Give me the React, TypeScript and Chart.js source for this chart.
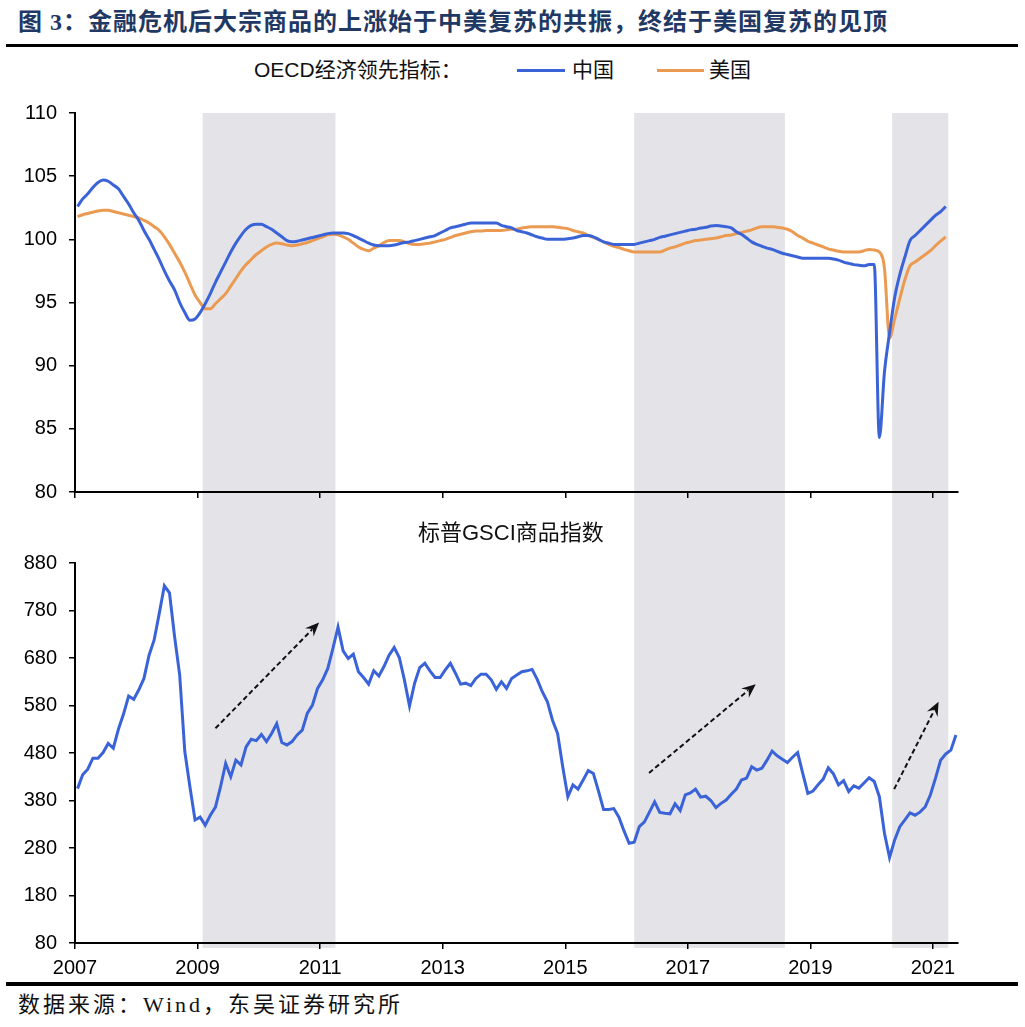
import React, { useEffect, useRef } from 'react';
import { Chart, registerables } from 'chart.js';

Chart.register(...registerables);

// ---------- data ----------
const FIRST_YEAR = 2007;
const tickYears = [2007, 2009, 2011, 2013, 2015, 2017, 2019, 2021];
const axisEndMonth = 172.9; // months after Jan 2007 where the x axis ends
const oecdYTicks = [80, 85, 90, 95, 100, 105, 110];
const gsciYTicks = [80, 180, 280, 380, 480, 580, 680, 780, 880];

// OECD composite leading indicator, monthly from Jan 2007
const chinaCLI = [
  102.6, 103.2, 103.6, 104.1, 104.5, 104.7, 104.6, 104.3, 104.0, 103.4,
  102.8, 102.1, 101.5, 100.7, 100.0, 99.2, 98.4, 97.5, 96.7, 96.0,
  95.0, 94.2, 93.6, 93.7, 94.2, 94.9, 95.7, 96.6, 97.4, 98.2,
  99.0, 99.7, 100.3, 100.8, 101.1, 101.2, 101.2, 101.0, 100.8, 100.5,
  100.2, 99.9, 99.8, 99.85, 99.95, 100.05, 100.15, 100.25, 100.35, 100.45,
  100.5, 100.5, 100.5, 100.45, 100.3, 100.1, 99.9, 99.7, 99.55, 99.5,
  99.5, 99.5, 99.55, 99.65, 99.75, 99.8, 99.9, 100.0, 100.1, 100.2,
  100.3, 100.5, 100.7, 100.9, 101.0, 101.1, 101.2, 101.3, 101.3, 101.3,
  101.3, 101.3, 101.3, 101.1, 101.0, 100.9, 100.7, 100.6, 100.5, 100.35,
  100.2, 100.1, 100.0, 100.0, 100.0, 100.0, 100.05, 100.1, 100.2, 100.3,
  100.3, 100.2, 100.0, 99.8, 99.7, 99.6, 99.6, 99.6, 99.6, 99.6,
  99.7, 99.8, 99.9, 100.0, 100.15, 100.25, 100.35, 100.45, 100.55, 100.65,
  100.75, 100.8, 100.9, 100.95, 101.05, 101.1, 101.05, 101.0, 100.9, 100.6,
  100.4, 100.1, 99.8, 99.6, 99.45, 99.3, 99.2, 99.05, 98.9, 98.8,
  98.7, 98.6, 98.5, 98.5, 98.5, 98.5, 98.5, 98.5, 98.45, 98.35,
  98.2, 98.1, 98.0, 97.95, 97.9, 98.0, 98.0, 84.3, 89.5, 92.6,
  95.4, 97.2, 98.6, 99.9, 100.3, 100.7, 101.1, 101.5, 101.9, 102.2,
  102.6,
];

const usCLI = [
  101.8, 101.95, 102.05, 102.15, 102.25, 102.3, 102.3, 102.2, 102.1, 102.0,
  101.9, 101.8, 101.7, 101.5, 101.3, 101.0, 100.7, 100.2, 99.6, 98.9,
  98.2, 97.4, 96.5, 95.6, 95.0, 94.5, 94.5, 94.9, 95.3, 95.7,
  96.3, 96.9, 97.5, 98.0, 98.4, 98.8, 99.1, 99.4, 99.6, 99.7,
  99.65, 99.55, 99.5, 99.55, 99.65, 99.75, 99.9, 100.05, 100.2, 100.35,
  100.4, 100.35, 100.2, 100.0, 99.7, 99.4, 99.2, 99.1, 99.3, 99.5,
  99.75, 99.9, 99.9, 99.9, 99.8, 99.65, 99.6, 99.6, 99.65, 99.7,
  99.8, 99.9, 100.0, 100.15, 100.3, 100.4, 100.5, 100.6, 100.65, 100.65,
  100.7, 100.7, 100.7, 100.7, 100.75, 100.8, 100.8, 100.9, 100.95, 101.0,
  101.0, 101.0, 101.0, 101.0, 100.95, 100.9, 100.85, 100.7, 100.6, 100.5,
  100.3, 100.15, 100.0, 99.8, 99.6, 99.45, 99.35, 99.2, 99.1, 99.0,
  99.0, 99.0, 99.0, 99.0, 99.0, 99.15, 99.3, 99.4, 99.55, 99.7,
  99.8, 99.9, 99.95, 100.0, 100.05, 100.1, 100.2, 100.3, 100.35, 100.45,
  100.55, 100.65, 100.75, 100.9, 101.0, 101.0, 101.0, 100.95, 100.9, 100.8,
  100.6, 100.3, 100.1, 99.85, 99.7, 99.55, 99.4, 99.25, 99.15, 99.05,
  99.0, 99.0, 99.0, 99.0, 99.1, 99.2, 99.15, 99.0, 97.7, 92.2,
  93.7, 95.3, 96.8, 97.9, 98.2, 98.5, 98.8, 99.1, 99.5, 99.85,
  100.2,
];

// S&P GSCI commodity index, monthly from Jan 2007
const gsci = [
  405, 434, 446, 469, 469, 481, 500, 490, 530, 562,
  600, 593, 613, 637, 686, 718, 774, 832, 817, 725,
  644, 483, 409, 339, 345, 328, 349, 366, 409, 458,
  430, 465, 455, 493, 509, 506, 519, 504, 521, 542,
  502, 497, 504, 518, 528, 564, 581, 616, 634, 658,
  700, 745, 695, 679, 688, 651, 639, 625, 653, 642,
  662, 686, 702, 681, 634, 579, 627, 660, 669, 653,
  639, 639, 655, 669, 648, 625, 627, 622, 637, 646,
  646, 634, 614, 630, 616, 637, 644, 651, 653, 656,
  635, 609, 588, 549, 521, 451, 388, 413, 404, 423,
  443, 437, 400, 361, 361, 363, 345, 316, 290, 292,
  325, 335, 356, 377, 355, 353, 352, 373, 359, 392,
  396, 404, 387, 389, 380, 365, 374, 381, 393, 404,
  423, 427, 451, 444, 448, 465, 484, 474, 467, 460,
  471, 481, 437, 395, 400, 413, 425, 449, 436, 413,
  422, 399, 411, 406, 417, 428, 420, 388, 311, 260,
  297, 325, 339, 354, 349, 356, 367, 392, 427, 465,
  478, 486, 518,
];

// shaded periods (months after Jan 2007)
const shadeStartMonths = [25, 109.5, 160];
const shadeEndMonths = [51, 139, 171];

// trend arrows in the GSCI panel (month, index value)
const arrowFromMonth = [27.5, 112.4, 160.4];
const arrowFromValue = [532, 438, 404];
const arrowToMonth = [47.8, 133.3, 169.1];
const arrowToValue = [755, 625, 588];

// ---------- style ----------
const BLUE = '#3b63d8';
const ORANGE = '#eb9a52';
const SHADE = '#e4e4e8';
const FONT_SANS = '"Liberation Sans", Arial, "Noto Sans CJK SC", sans-serif';
const FONT_SERIF = '"Liberation Serif", "Noto Sans CJK SC", serif';

const toPoints = (vals: number[]) => vals.map((v, i) => ({ x: i + 0.5, y: v }));

function xScale(showLabels: boolean, height: number): any {
  return {
    type: 'linear',
    min: 0,
    max: axisEndMonth,
    afterBuildTicks: (s: any) => {
      s.ticks = tickYears.map((y) => ({ value: (y - FIRST_YEAR) * 12 }));
    },
    afterFit: (s: any) => {
      s.height = height;
    },
    grid: { display: true, drawOnChartArea: false, drawTicks: true, tickLength: 6, color: '#000', lineWidth: 1.5 },
    border: { display: true, color: '#000', width: 2 },
    ticks: {
      autoSkip: false,
      maxRotation: 0,
      padding: 7,
      color: '#000',
      font: { family: FONT_SANS, size: 20 },
      callback: (v: any) => (showLabels ? String(FIRST_YEAR + Math.round(Number(v) / 12)) : ''),
    },
  };
}

function yScale(min: number, max: number, ticks: number[]): any {
  return {
    type: 'linear',
    min,
    max,
    afterBuildTicks: (s: any) => {
      s.ticks = ticks.map((v) => ({ value: v }));
    },
    afterFit: (s: any) => {
      s.width = 75;
    },
    grid: { display: true, drawOnChartArea: false, drawTicks: true, tickLength: 6, color: '#000', lineWidth: 1.5 },
    border: { display: true, color: '#000', width: 2 },
    ticks: { padding: 12, color: '#000', font: { family: FONT_SANS, size: 20 } },
  };
}

function shadePlugin(fromCanvasTop: boolean, toCanvasBottom: boolean): any {
  return {
    id: 'shade',
    beforeDraw(chart: any) {
      const { ctx, chartArea, scales } = chart;
      const x = scales.x;
      const top = fromCanvasTop ? 0 : chartArea.top;
      const bottom = toCanvasBottom ? chart.height : chartArea.bottom + 5;
      ctx.save();
      ctx.fillStyle = SHADE;
      for (let i = 0; i < shadeStartMonths.length; i++) {
        const x0 = x.getPixelForValue(shadeStartMonths[i]);
        const x1 = x.getPixelForValue(shadeEndMonths[i]);
        ctx.fillRect(x0, top, x1 - x0, bottom - top);
      }
      ctx.restore();
    },
  };
}

const arrowPlugin: any = {
  id: 'arrows',
  afterDatasetsDraw(chart: any) {
    const { ctx, scales } = chart;
    const { x, y } = scales;
    ctx.save();
    for (let i = 0; i < arrowFromMonth.length; i++) {
      const x0 = x.getPixelForValue(arrowFromMonth[i]);
      const y0 = y.getPixelForValue(arrowFromValue[i]);
      const x1 = x.getPixelForValue(arrowToMonth[i]);
      const y1 = y.getPixelForValue(arrowToValue[i]);
      const ang = Math.atan2(y1 - y0, x1 - x0);
      const cos = Math.cos(ang);
      const sin = Math.sin(ang);
      const head = 14;
      ctx.strokeStyle = '#111';
      ctx.lineWidth = 2;
      ctx.setLineDash([5, 3]);
      ctx.beginPath();
      ctx.moveTo(x0, y0);
      ctx.lineTo(x1 - cos * head * 0.7, y1 - sin * head * 0.7);
      ctx.stroke();
      ctx.setLineDash([]);
      ctx.fillStyle = '#111';
      ctx.beginPath();
      ctx.moveTo(x1, y1);
      ctx.lineTo(x1 - cos * head - sin * 6, y1 - sin * head + cos * 6);
      ctx.lineTo(x1 - cos * head * 0.65, y1 - sin * head * 0.65);
      ctx.lineTo(x1 - cos * head + sin * 6, y1 - sin * head - cos * 6);
      ctx.closePath();
      ctx.fill();
    }
    ctx.restore();
  },
};

// top panel canvas: page y 88 .. 520, plot area 113 .. 492
const TOP_Y = 88;
const TOP_H = 432;
const TOP_PAD = 25;
const TOP_AXIS_H = 520 - 492;
// bottom panel canvas: page y 520 .. 985, plot area 563 .. 943
const BOT_Y = 520;
const BOT_H = 465;
const BOT_PAD = 43;
const BOT_AXIS_H = 985 - 943;

export default function App() {
  const topRef = useRef<HTMLCanvasElement>(null);
  const botRef = useRef<HTMLCanvasElement>(null);

  useEffect(() => {
    const top = new Chart(topRef.current as HTMLCanvasElement, {
      type: 'line',
      data: {
        datasets: [
          {
            label: '中国',
            data: toPoints(chinaCLI),
            borderColor: BLUE,
            backgroundColor: BLUE,
            borderWidth: 3,
            pointRadius: 0,
            cubicInterpolationMode: 'monotone',
          },
          {
            label: '美国',
            data: toPoints(usCLI),
            borderColor: ORANGE,
            backgroundColor: ORANGE,
            borderWidth: 3,
            pointRadius: 0,
            cubicInterpolationMode: 'monotone',
          },
        ],
      },
      options: {
        responsive: false,
        animation: false,
        devicePixelRatio: 1,
        layout: { padding: { top: TOP_PAD, right: 67, left: 0, bottom: 0 } },
        plugins: { legend: { display: false }, tooltip: { enabled: false }, title: { display: false } },
        scales: {
          x: xScale(false, TOP_AXIS_H),
          y: yScale(80, 110, oecdYTicks),
        },
      } as any,
      plugins: [shadePlugin(false, true)],
    });

    const bottom = new Chart(botRef.current as HTMLCanvasElement, {
      type: 'line',
      data: {
        datasets: [
          {
            label: '标普GSCI商品指数',
            data: toPoints(gsci),
            borderColor: BLUE,
            backgroundColor: BLUE,
            borderWidth: 3,
            pointRadius: 0,
            tension: 0,
          },
        ],
      },
      options: {
        responsive: false,
        animation: false,
        devicePixelRatio: 1,
        layout: { padding: { top: BOT_PAD, right: 67, left: 0, bottom: 0 } },
        plugins: { legend: { display: false }, tooltip: { enabled: false }, title: { display: false } },
        scales: {
          x: xScale(true, BOT_AXIS_H),
          y: yScale(80, 880, gsciYTicks),
        },
      } as any,
      plugins: [shadePlugin(true, false), arrowPlugin],
    });

    return () => {
      top.destroy();
      bottom.destroy();
    };
  }, []);

  const abs: React.CSSProperties = { position: 'absolute', whiteSpace: 'nowrap' };

  return (
    <div
      style={{
        position: 'absolute',
        left: 0,
        top: 0,
        width: 1025,
        height: 1027,
        background: '#fff',
        overflow: 'hidden',
        fontFamily: FONT_SANS,
        color: '#111',
      }}
    >
      <div
        style={{
          ...abs,
          left: 18,
          top: 8,
          fontSize: 24,
          lineHeight: '28px',
          fontWeight: 'bold',
          fontFamily: FONT_SERIF,
          color: '#1f3864',
          letterSpacing: 1,
        }}
      >
        图 3：金融危机后大宗商品的上涨始于中美复苏的共振，终结于美国复苏的见顶
      </div>
      <div style={{ ...abs, left: 6, top: 44, width: 1012, height: 3, background: '#000' }} />

      <canvas
        ref={topRef}
        width={1025}
        height={TOP_H}
        style={{ position: 'absolute', left: 0, top: TOP_Y, width: 1025, height: TOP_H, display: 'block' }}
      />
      <canvas
        ref={botRef}
        width={1025}
        height={BOT_H}
        style={{ position: 'absolute', left: 0, top: BOT_Y, width: 1025, height: BOT_H, display: 'block' }}
      />

      <div style={{ ...abs, left: 254, top: 57, fontSize: 21, lineHeight: '26px' }}>OECD经济领先指标：</div>
      <div style={{ ...abs, left: 517, top: 68.5, width: 48, height: 3, background: BLUE }} />
      <div style={{ ...abs, left: 572, top: 57, fontSize: 21, lineHeight: '26px' }}>中国</div>
      <div style={{ ...abs, left: 657, top: 68.5, width: 47, height: 3, background: ORANGE }} />
      <div style={{ ...abs, left: 709, top: 57, fontSize: 21, lineHeight: '26px' }}>美国</div>

      <div style={{ ...abs, left: 418, top: 520, fontSize: 22, lineHeight: '26px' }}>标普GSCI商品指数</div>

      <div style={{ ...abs, left: 6, top: 982, width: 1012, height: 4, background: '#000' }} />
      <div
        style={{ ...abs, left: 18, top: 992, fontSize: 22, lineHeight: '26px', fontFamily: FONT_SERIF, letterSpacing: 3 }}
      >
        数据来源：Wind，东吴证券研究所
      </div>
    </div>
  );
}
